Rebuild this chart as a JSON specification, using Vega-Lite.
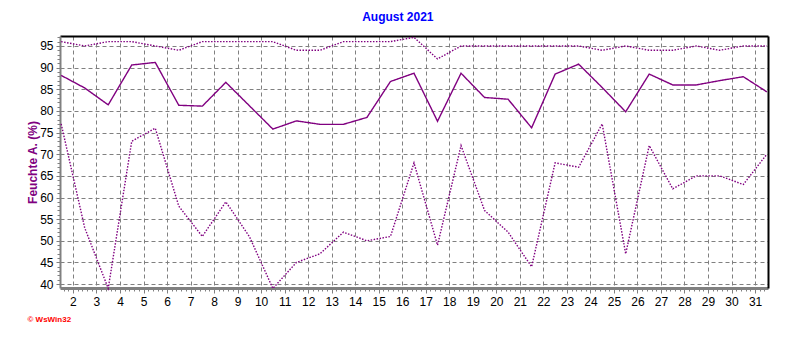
{
  "$schema": "https://vega.github.io/schema/vega-lite/v6.json",
  "width": 708,
  "height": 252,
  "autosize": {"type": "none"},
  "padding": {"left": 60, "top": 36, "right": 24, "bottom": 49},
  "background": "#ffffff",
  "config": {"view": {"stroke": null}},
  "title": {
    "text": "August 2021",
    "color": "#0000ff",
    "font": "Liberation Sans",
    "fontSize": 12,
    "fontWeight": "bold",
    "anchor": "middle",
    "frame": "bounds",
    "offset": 10
  },
  "data": {
    "values": [
      {"day": 1.5, "max": 96, "mean": 88.2, "min": 77},
      {"day": 2.5, "max": 95, "mean": 85.3, "min": 53},
      {"day": 3.5, "max": 96, "mean": 81.4, "min": 39},
      {"day": 4.5, "max": 96, "mean": 90.6, "min": 73},
      {"day": 5.5, "max": 95, "mean": 91.2, "min": 76},
      {"day": 6.5, "max": 94, "mean": 81.3, "min": 58},
      {"day": 7.5, "max": 96, "mean": 81.1, "min": 51},
      {"day": 8.5, "max": 96, "mean": 86.6, "min": 59},
      {"day": 9.5, "max": 96, "mean": 81.2, "min": 51},
      {"day": 10.5, "max": 96, "mean": 75.8, "min": 39},
      {"day": 11.5, "max": 94, "mean": 77.7, "min": 45},
      {"day": 12.5, "max": 94, "mean": 76.9, "min": 47},
      {"day": 13.5, "max": 96, "mean": 76.9, "min": 52},
      {"day": 14.5, "max": 96, "mean": 78.5, "min": 50},
      {"day": 15.5, "max": 96, "mean": 86.8, "min": 51},
      {"day": 16.5, "max": 97, "mean": 88.7, "min": 68},
      {"day": 17.5, "max": 92, "mean": 77.6, "min": 49},
      {"day": 18.5, "max": 95, "mean": 88.7, "min": 72},
      {"day": 19.5, "max": 95, "mean": 83.1, "min": 57},
      {"day": 20.5, "max": 95, "mean": 82.7, "min": 52},
      {"day": 21.5, "max": 95, "mean": 76.1, "min": 44},
      {"day": 22.5, "max": 95, "mean": 88.5, "min": 68},
      {"day": 23.5, "max": 95, "mean": 90.8, "min": 67},
      {"day": 24.5, "max": 94, "mean": 85.4, "min": 77},
      {"day": 25.5, "max": 95, "mean": 79.8, "min": 47},
      {"day": 26.5, "max": 94, "mean": 88.5, "min": 72},
      {"day": 27.5, "max": 94, "mean": 86.0, "min": 62},
      {"day": 28.5, "max": 95, "mean": 86.0, "min": 65},
      {"day": 29.5, "max": 94, "mean": 87.0, "min": 65},
      {"day": 30.5, "max": 95, "mean": 87.9, "min": 63},
      {"day": 31.5, "max": 95, "mean": 84.4, "min": 70}
    ]
  },
  "transform": [{"fold": ["max", "mean", "min"], "as": ["series", "value"]}],
  "resolve": {"axis": {"x": "independent", "y": "independent"}},
  "layer": [
    {
      "mark": {"type": "point", "opacity": 0},
      "encoding": {
        "x": {
          "field": "day",
          "type": "quantitative",
          "scale": {"domain": [1.45, 31.55], "nice": false, "zero": false},
          "axis": {
            "orient": "bottom",
            "values": [1.6,1.8,2.2,2.4,2.6,2.8,3.2,3.4,3.6,3.8,4.2,4.4,4.6,4.8,5.2,5.4,5.6,5.8,6.2,6.4,6.6,6.8,7.2,7.4,7.6,7.8,8.2,8.4,8.6,8.8,9.2,9.4,9.6,9.8,10.2,10.4,10.6,10.8,11.2,11.4,11.6,11.8,12.2,12.4,12.6,12.8,13.2,13.4,13.6,13.8,14.2,14.4,14.6,14.8,15.2,15.4,15.6,15.8,16.2,16.4,16.6,16.8,17.2,17.4,17.6,17.8,18.2,18.4,18.6,18.8,19.2,19.4,19.6,19.8,20.2,20.4,20.6,20.8,21.2,21.4,21.6,21.8,22.2,22.4,22.6,22.8,23.2,23.4,23.6,23.8,24.2,24.4,24.6,24.8,25.2,25.4,25.6,25.8,26.2,26.4,26.6,26.8,27.2,27.4,27.6,27.8,28.2,28.4,28.6,28.8,29.2,29.4,29.6,29.8,30.2,30.4,30.6,30.8,31.2,31.4],
            "grid": false,
            "domain": false,
            "labels": false,
            "tickColor": "#808080",
            "tickSize": 3,
            "tickWidth": 1,
            "title": null
          }
        },
        "y": {
          "field": "value",
          "type": "quantitative",
          "scale": {"domain": [39.1, 97.3], "nice": false, "zero": false},
          "axis": {
            "orient": "left",
            "values": [41,42,43,44,46,47,48,49,51,52,53,54,56,57,58,59,61,62,63,64,66,67,68,69,71,72,73,74,76,77,78,79,81,82,83,84,86,87,88,89,91,92,93,94,96,97],
            "grid": false,
            "domain": false,
            "labels": false,
            "tickColor": "#808080",
            "tickSize": 3,
            "tickWidth": 1,
            "title": null
          }
        }
      }
    },
    {
      "mark": {"type": "line", "color": "#800080", "strokeWidth": 1.4},
      "encoding": {
        "x": {
          "field": "day",
          "type": "quantitative",
          "scale": {"domain": [1.45, 31.55], "nice": false, "zero": false},
          "axis": {
            "orient": "bottom",
            "values": [2,3,4,5,6,7,8,9,10,11,12,13,14,15,16,17,18,19,20,21,22,23,24,25,26,27,28,29,30,31],
            "grid": true,
            "gridColor": "#808080",
            "gridDash": [4, 3],
            "gridWidth": 1,
            "domainColor": "#808080",
            "domainWidth": 3,
            "tickColor": "#808080",
            "tickSize": 5,
            "tickWidth": 1,
            "labelFont": "Liberation Sans",
            "labelFontSize": 12,
            "labelColor": "#000000",
            "labelPadding": 3,
            "labelFlush": false,
            "labelOverlap": false,
            "title": "© WsWin32",
            "titleX": -33,
            "titleY": 31,
            "titleAlign": "left",
            "titleBaseline": "middle",
            "titleAnchor": null,
            "titleColor": "#ff0000",
            "titleFont": "Liberation Sans",
            "titleFontSize": 8,
            "titleFontWeight": "bold"
          }
        },
        "y": {
          "field": "value",
          "type": "quantitative",
          "scale": {"domain": [39.1, 97.3], "nice": false, "zero": false},
          "axis": {
            "orient": "left",
            "values": [40, 45, 50, 55, 60, 65, 70, 75, 80, 85, 90, 95],
            "grid": true,
            "gridColor": "#808080",
            "gridDash": [4, 3],
            "gridWidth": 1,
            "domainColor": "#808080",
            "domainWidth": 2,
            "tickColor": "#808080",
            "tickSize": 4,
            "labelFont": "Liberation Sans",
            "labelFontSize": 12,
            "labelColor": "#000000",
            "labelPadding": 3,
            "labelFlush": false,
            "title": "Feuchte A.  (%)",
            "titleX": -28,
            "titleY": 126,
            "titleAngle": 270,
            "titleAlign": "center",
            "titleBaseline": "middle",
            "titleColor": "#800080",
            "titleFont": "Liberation Sans",
            "titleFontSize": 12,
            "titleFontWeight": "bold"
          }
        },
        "detail": {"field": "series"},
        "strokeDash": {
          "field": "series",
          "type": "nominal",
          "scale": {"domain": ["max", "mean", "min"], "range": [[1.5, 1.5], [1, 0], [1.5, 1.5]]},
          "legend": null
        }
      }
    },
    {
      "mark": {"type": "point", "opacity": 0},
      "encoding": {
        "x": {
          "field": "day",
          "type": "quantitative",
          "scale": {"domain": [1.45, 31.55], "nice": false, "zero": false},
          "axis": {"orient": "top", "values": [], "grid": false, "domainColor": "#000000", "domainWidth": 2, "ticks": false, "labels": false, "title": null}
        },
        "y": {
          "field": "value",
          "type": "quantitative",
          "scale": {"domain": [39.1, 97.3], "nice": false, "zero": false},
          "axis": {"orient": "right", "values": [], "grid": false, "domainColor": "#000000", "domainWidth": 2, "ticks": false, "labels": false, "title": null}
        }
      }
    }
  ]
}
